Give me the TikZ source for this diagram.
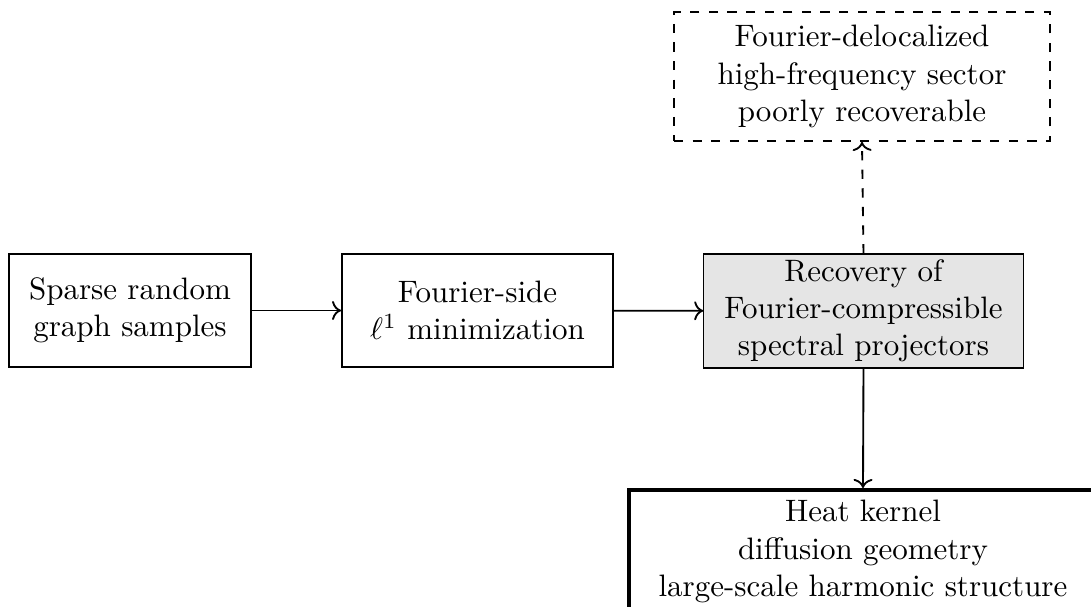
\documentclass[tikz,border=0pt]{standalone}
\usetikzlibrary{arrows.meta}
\begin{document}
\begin{tikzpicture}[x=0.32258pt,y=-0.32258pt,
  box/.style={draw, semithick, align=center, inner sep=2pt},
  arr/.style={semithick, ->}]
\useasboundingbox (0,0) rectangle (1091,607);
\clip (0,0) rectangle (1091,607);
\node[box, minimum width=78pt, minimum height=36.5pt] (samples) at (130,310.5) {Sparse random\\graph samples};
\node[box, minimum width=87.4pt, minimum height=36.5pt] (l1) at (477.5,310.5) {Fourier-side\\$\ell^1$ minimization};
\node[draw, fill=gray!20, align=center, inner sep=1pt, minimum width=103pt, minimum height=36.8pt] (rec) at (863.5,311) {Recovery of\\Fourier-compressible\\spectral projectors};
\node[box, dashed, minimum width=121.3pt, minimum height=41.6pt] (deloc) at (862,76.5) {Fourier-delocalized\\high-frequency sector\\poorly recoverable};
\node[draw, very thick, align=center, anchor=north, minimum width=151pt, inner sep=3.4pt] (heat) at (863,488) {Heat kernel\\diffusion geometry\\large-scale harmonic structure};
\draw[arr] (samples) -- (l1);
\draw[arr] (l1) -- (rec);
\draw[arr] (rec.south) -- (heat.north);
\draw[arr, dashed] (rec.north) -- (deloc.south);
\end{tikzpicture}
\end{document}
